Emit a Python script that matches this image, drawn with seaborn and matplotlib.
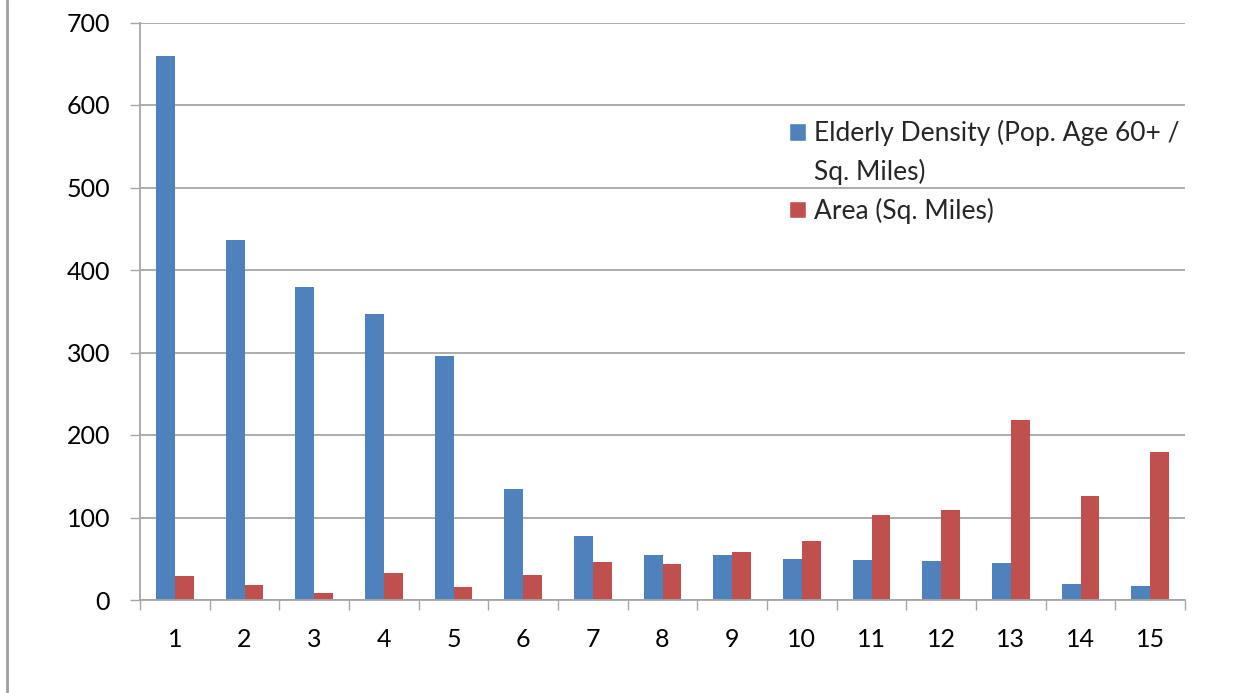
import matplotlib
matplotlib.use("Agg")
import matplotlib.pyplot as plt
from matplotlib.patches import Patch
from matplotlib.lines import Line2D
from matplotlib.ticker import FixedLocator, MultipleLocator
import seaborn as sns
import pandas as pd
import numpy as np

categories = [str(i) for i in range(1, 16)]
elderly_density = [659, 436, 380, 347, 296, 134, 77, 55, 55, 50, 48, 47, 45, 19, 17]
area_sq_miles = [29, 18, 9, 33, 16, 30, 46, 44, 58, 71, 103, 109, 218, 126, 180]

series_density = "Elderly Density (Pop. Age 60+ /"
series_density_cont = "Sq. Miles)"
series_area = "Area (Sq. Miles)"

df = pd.DataFrame({
    "category": categories * 2,
    "value": elderly_density + area_sq_miles,
    "series": [series_density] * len(categories) + [series_area] * len(categories),
})

sns.set_theme(style="white")
plt.rcParams["font.family"] = ["Lato", "DejaVu Sans"]

W, H = 1251, 693
fig = plt.figure(figsize=(W / 100, H / 100), dpi=100)
ax = fig.add_axes([140 / W, 1 - 600 / H, 1045 / W, 577.5 / H])

blue = "#4F81BD"
red = "#C0504D"
sns.barplot(data=df, x="category", y="value", hue="series", order=categories,
            palette=[blue, red], width=0.54, ax=ax, saturation=1,
            edgecolor="none", legend=False)

grid_c = "#a6a6a6"
ax.set_ylim(0, 700)
ax.set_xlim(-0.5, len(categories) - 0.5)
ax.yaxis.set_major_locator(MultipleLocator(100))
ax.grid(axis="y", color=grid_c, linewidth=1.3)
ax.set_axisbelow(True)
ax.set_xlabel("")
ax.set_ylabel("")

for s in ["top", "right"]:
    ax.spines[s].set_visible(False)
for s in ["left", "bottom"]:
    ax.spines[s].set_color(grid_c)
    ax.spines[s].set_linewidth(1.3)

ax.tick_params(axis="y", which="major", length=7.5, width=1.0, color=grid_c,
               pad=14, labelsize=18, labelcolor="black", left=True)
ax.tick_params(axis="x", which="major", length=0, pad=20, labelsize=18,
               labelcolor="black", bottom=True)
ax.xaxis.set_minor_locator(FixedLocator(np.arange(-0.5, len(categories), 1.0)))
ax.tick_params(axis="x", which="minor", length=7.5, width=1.0, color=grid_c, bottom=True)

handles = [Patch(facecolor=blue), Patch(facecolor="none", edgecolor="none"), Patch(facecolor=red)]
labels = [series_density, series_density_cont, series_area]
fig.legend(handles, labels, loc="upper left", bbox_to_anchor=(789 / W, 1 - 120 / H),
           frameon=False, fontsize=19, handlelength=0.65, handleheight=0.65,
           handletextpad=0.3, labelspacing=0.48, borderpad=0, borderaxespad=0)

fig.add_artist(Line2D([6.5 / W, 6.5 / W], [0, 1], transform=fig.transFigure,
                      color="#a0a0a0", linewidth=2))

fig.savefig("out.png", dpi=100)
